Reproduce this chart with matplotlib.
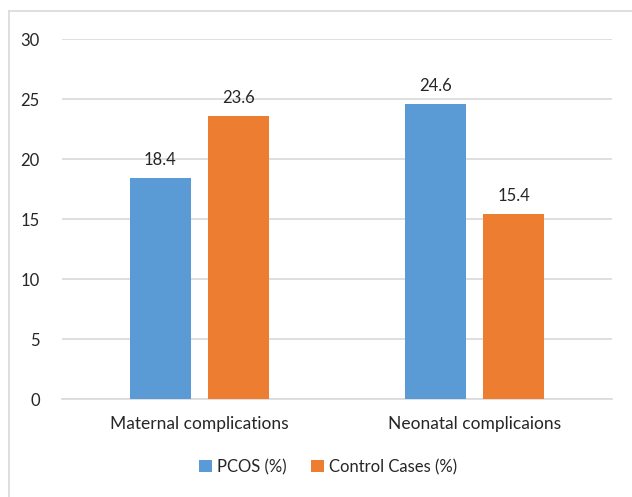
import numpy as np
import matplotlib.pyplot as plt
from matplotlib.lines import Line2D

categories = ['Maternal complications', 'Neonatal complicaions']
pcos = [18.4, 24.6]
control = [23.6, 15.4]
series_names = ['PCOS (%)', 'Control Cases (%)']

blue = '#5B9BD5'
orange = '#ED7D31'

plt.rcParams['font.family'] = ['Lato', 'DejaVu Sans']

fig = plt.figure(figsize=(6.32, 4.97), dpi=100)
W, H = 632, 497
ax = fig.add_axes([62 / W, 1 - 399 / H, (612 - 62) / W, (399 - 39) / H])

x = np.arange(len(categories))
width = 0.223
off = 0.142
b1 = ax.bar(x - off, pcos, width, color=blue, label=series_names[0], zorder=3)
b2 = ax.bar(x + off, control, width, color=orange, label=series_names[1], zorder=3)

for bars in (b1, b2):
    for r in bars:
        ax.annotate(f'{r.get_height():.1f}', (r.get_x() + r.get_width() / 2, r.get_height()),
                    xytext=(0, 7), textcoords='offset points', ha='center', va='bottom',
                    fontsize=12, color='#262626')

ax.set_xlim(-0.5, 1.5)
ax.set_ylim(0, 30)
ax.set_yticks(range(0, 31, 5))
ax.set_xticks(x)
ax.set_xticklabels(categories)
ax.tick_params(axis='both', length=0, labelsize=12, labelcolor='#262626')
ax.tick_params(axis='x', labelsize=12.5, pad=12)
ax.tick_params(axis='y', pad=16)
ax.grid(axis='y', color='#D9D9D9', lw=1.2, zorder=0)
for s in ['top', 'right', 'left']:
    ax.spines[s].set_visible(False)
ax.spines['bottom'].set_color('#D9D9D9')
ax.spines['bottom'].set_linewidth(1.2)

fig.legend(loc='center', bbox_to_anchor=(328 / W, 1 - 467 / H), ncol=2, frameon=False,
           fontsize=12, handlelength=0.75, handleheight=0.75, handletextpad=0.3,
           columnspacing=1.5, labelcolor='#262626')

# partial chart frame: top and left edges only
top = 1 - 10.5 / H
left = 8.5 / W
fig.add_artist(Line2D([left, 1], [top, top], transform=fig.transFigure,
                      color='#D9D9D9', lw=1.2))
fig.add_artist(Line2D([left, left], [0, top], transform=fig.transFigure,
                      color='#D9D9D9', lw=1.2))

fig.savefig('out.png', dpi=100)
